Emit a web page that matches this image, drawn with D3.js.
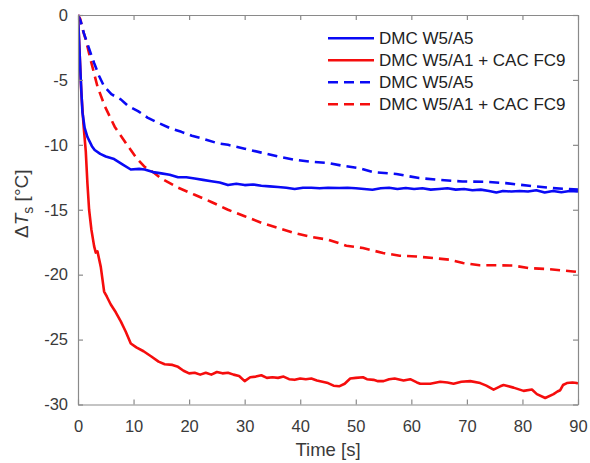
<!DOCTYPE html>
<html>
<head>
<meta charset="utf-8">
<script src="https://cdn.jsdelivr.net/npm/d3@7"></script>
<style>
  body { margin: 0; background: #fff; }
  svg { font-family: "Liberation Sans", Arial, sans-serif; }
</style>
</head>
<body>
<svg width="590" height="463"></svg>
<script>
// [time (s), delta T (°C)]
const blueSolid = [
  [0,0],[0.2,-2],[0.5,-5],[0.8,-7.5],[1.2,-8.7],[1.7,-9.4],[2.5,-10.1],[3,-10.4],[4,-10.7],[5,-10.9],
  [6.5,-11.1],[8,-11.5],[9.5,-11.9],[11,-11.85],[12,-11.9],[13.5,-12.1],[15,-12.2],[16.5,-12.3],[18,-12.5],
  [19.5,-12.5],[21,-12.6],[22.5,-12.7],[24,-12.8],[25.5,-12.9],[27,-13.1],[28.5,-13.0],[30,-13.1],[31.5,-13.05],
  [33,-13.15],[34.5,-13.2],[36,-13.25],[37.5,-13.3],[39,-13.4],[40.5,-13.3],[42,-13.3],[43.5,-13.35],[45,-13.3],
  [47,-13.33],[48.5,-13.3],[50,-13.35],[51.5,-13.4],[53,-13.46],[54.5,-13.35],[56,-13.3],[57.5,-13.4],[59,-13.33],
  [60.5,-13.4],[62,-13.35],[63.5,-13.45],[65,-13.4],[66.5,-13.35],[68,-13.45],[69.5,-13.4],[71,-13.5],[72.5,-13.45],
  [74,-13.55],[75.3,-13.67],[76.5,-13.55],[78,-13.6],[79.5,-13.55],[81,-13.6],[82.5,-13.5],[84,-13.67],[85.5,-13.55],
  [87,-13.65],[88.5,-13.55],[90,-13.6]
];
const redSolid = [
  [0,0],[0.3,-3],[0.6,-6],[1.0,-8.5],[1.4,-10.5],[1.7,-13],[2.0,-15],[2.4,-16.5],[2.9,-17.8],[3.2,-18.3],[3.5,-18.2],
  [4.1,-19.4],[4.7,-21.3],[5.2,-21.7],[5.9,-22.3],[6.8,-22.9],[7.7,-23.6],[8.6,-24.4],[9.5,-25.3],[10.5,-25.6],
  [11.8,-25.9],[13.2,-26.3],[14.5,-26.7],[15.6,-26.9],[17,-26.95],[18,-27.1],[19,-27.4],[20,-27.6],[21,-27.55],
  [22,-27.7],[23,-27.55],[24,-27.7],[25,-27.5],[26,-27.6],[27,-27.55],[28,-27.7],[29,-27.8],[30,-28.2],[31,-27.9],
  [32,-27.85],[33,-27.75],[34,-27.95],[35,-27.9],[36,-27.95],[37,-27.85],[38,-28.05],[39,-28.1],[40,-28.0],
  [41,-28.05],[42,-28.0],[43,-28.15],[44,-28.25],[45,-28.35],[46,-28.55],[47,-28.6],[48,-28.4],[49,-28.0],
  [50,-27.95],[51.3,-27.9],[52,-28.05],[53.2,-28.1],[54,-28.2],[55,-28.2],[56,-28.05],[57,-28.0],[58.6,-28.15],
  [59.8,-28.05],[61,-28.3],[61.6,-28.4],[63.4,-28.4],[65.2,-28.25],[66.5,-28.3],[67.6,-28.4],[69,-28.25],
  [70.6,-28.2],[72.4,-28.35],[73.5,-28.55],[74.8,-28.85],[76,-28.6],[76.6,-28.5],[78.4,-28.7],[80.2,-28.95],
  [81.7,-28.85],[82.6,-29.2],[84.1,-29.5],[85.6,-29.2],[86.3,-29.0],[86.8,-28.9],[87.3,-28.5],[88,-28.35],
  [89,-28.3],[89.8,-28.35],[90,-28.4]
];
const blueDashed = [
  [0,0],[0.5,-0.5],[1.05,-1.4],[2,-2.6],[2.9,-3.7],[3.8,-4.7],[4.7,-5.5],[6,-6.1],[7.7,-6.5],[9,-7.0],[10.8,-7.4],
  [12.5,-7.9],[14.4,-8.3],[16.5,-8.7],[18.6,-9.0],[20.5,-9.3],[22.3,-9.5],[25.3,-9.9],[27,-10.0],[30,-10.3],
  [33,-10.6],[36,-10.9],[39,-11.15],[42,-11.3],[45,-11.4],[47.5,-11.6],[50.6,-11.8],[53.1,-12.1],[57.3,-12.25],
  [61.4,-12.56],[65,-12.7],[69.2,-12.82],[73.4,-12.85],[77,-12.95],[81.2,-13.15],[85.4,-13.33],[90,-13.45]
];
const redDashed = [
  [0,0],[0.4,-0.3],[0.9,-1.2],[1.4,-1.9],[2.3,-3.5],[3.5,-5.5],[4.8,-7.0],[6.6,-8.6],[9,-10.1],[10.5,-11.0],
  [12,-11.7],[13.5,-12.1],[15,-12.6],[18,-13.3],[21,-13.85],[24,-14.4],[27,-15.0],[30,-15.5],[33,-16.0],[36,-16.4],
  [39,-16.8],[42,-17.1],[45,-17.3],[48.3,-17.77],[51.3,-17.95],[54.9,-18.33],[57.9,-18.54],[60.9,-18.6],
  [63.9,-18.72],[66.9,-18.85],[69.3,-19.1],[72.3,-19.28],[75.3,-19.28],[78.3,-19.3],[81.3,-19.5],[84.3,-19.56],
  [89.1,-19.75],[90,-19.8]
];

const xTicks = [0, 10, 20, 30, 40, 50, 60, 70, 80, 90];
const yTicks = [0, -5, -10, -15, -20, -25, -30];
const legendLabels = ['DMC W5/A5', 'DMC W5/A1 + CAC FC9', 'DMC W5/A5', 'DMC W5/A1 + CAC FC9'];

const series = [
  { data: blueSolid, color: '#0a0af5', dash: null },
  { data: redSolid, color: '#f50d0d', dash: null },
  { data: blueDashed, color: '#0a0af5', dash: '10,6' },
  { data: redDashed, color: '#f50d0d', dash: '10,6' },
];

const svg = d3.select('svg');
const margin = { left: 78, right: 12, top: 15, bottom: 58.5 };
const width = 590, height = 463;

const x = d3.scaleLinear().domain([0, 90]).range([margin.left, width - margin.right]);
const y = d3.scaleLinear().domain([-30, 0]).range([height - margin.bottom, margin.top]);

const axisColor = '#8a8a8a';
const textColor = '#3a3a3a';

// lines
const line = d3.line().x(d => x(d[0])).y(d => y(d[1]));
svg.append('defs').append('clipPath').attr('id', 'clip')
  .append('rect')
  .attr('x', x(0)).attr('y', y(0) - 3)
  .attr('width', x(90) - x(0) + 1).attr('height', y(-30) - y(0) + 6);

svg.append('g').attr('clip-path', 'url(#clip)')
  .selectAll('path')
  .data(series.slice().reverse())
  .join('path')
  .attr('d', d => line(d.data))
  .attr('fill', 'none')
  .attr('stroke', d => d.color)
  .attr('stroke-width', 2.6)
  .attr('stroke-linejoin', 'round')
  .attr('stroke-dasharray', d => d.dash);

// axes (MATLAB box style with inward ticks)
const tick = 5;
const fmt = d => String(d);
const xAxis = svg.append('g')
  .attr('transform', `translate(0,${y(-30)})`)
  .call(d3.axisBottom(x).tickValues(xTicks).tickFormat(fmt).tickSizeInner(-tick).tickSizeOuter(0).tickPadding(16));
const xTop = svg.append('g')
  .attr('transform', `translate(0,${y(0)})`)
  .call(d3.axisTop(x).tickValues(xTicks).tickSizeInner(-tick).tickSizeOuter(0).tickFormat(''));
const yAxis = svg.append('g')
  .attr('transform', `translate(${x(0)},0)`)
  .call(d3.axisLeft(y).tickValues(yTicks).tickFormat(fmt).tickSizeInner(-tick).tickSizeOuter(0).tickPadding(10));
const yRight = svg.append('g')
  .attr('transform', `translate(${x(90)},0)`)
  .call(d3.axisRight(y).tickValues(yTicks).tickSizeInner(-tick).tickSizeOuter(0).tickFormat(''));

[xAxis, xTop, yAxis, yRight].forEach(g => {
  g.selectAll('.domain').attr('stroke', axisColor).attr('stroke-width', 1.2);
  g.selectAll('.tick line').attr('stroke', axisColor).attr('stroke-width', 1.2);
  g.selectAll('.tick text').attr('fill', textColor).style('font-size', '16.5px');
});

// axis titles
svg.append('text')
  .attr('x', (x(0) + x(90)) / 2)
  .attr('y', 456)
  .attr('text-anchor', 'middle')
  .attr('fill', textColor)
  .style('font-size', '18.5px')
  .text('Time [s]');

const yl = svg.append('text')
  .attr('transform', `translate(28,${(y(0) + y(-30)) / 2 - 6}) rotate(-90)`)
  .attr('text-anchor', 'middle')
  .attr('fill', textColor)
  .style('font-size', '19px');
yl.append('tspan').text('Δ');
yl.append('tspan').attr('font-style', 'italic').text('T');
yl.append('tspan').attr('dy', 5).style('font-size', '14px').text('s');
yl.append('tspan').attr('dy', -5).text(' [°C]');

// legend
const legend = svg.append('g').attr('transform', 'translate(328,38.3)');
const rows = legend.selectAll('g')
  .data(series)
  .join('g')
  .attr('transform', (d, i) => `translate(0,${i * 22})`);
rows.append('line')
  .attr('x1', 0).attr('x2', 46)
  .attr('stroke', d => d.color)
  .attr('stroke-width', 2.6)
  .attr('stroke-dasharray', d => d.dash);
rows.append('text')
  .attr('x', 51)
  .attr('dy', '0.35em')
  .attr('fill', '#222')
  .style('font-size', '17px')
  .text((d, i) => legendLabels[i]);
</script>
</body>
</html>
